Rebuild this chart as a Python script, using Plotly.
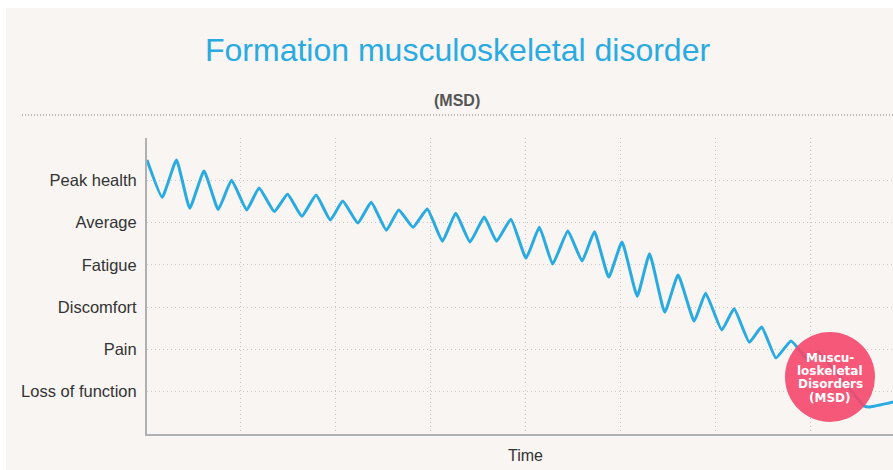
import plotly.graph_objects as go

# ---- data ----
time = [0.0, 0.16, 0.31, 0.45, 0.60, 0.75, 0.89, 1.05, 1.18, 1.34, 1.48, 1.63, 1.78, 1.93,
        2.06, 2.22, 2.36, 2.52, 2.65, 2.80, 2.95, 3.11, 3.25, 3.40, 3.55, 3.68, 3.83, 3.99,
        4.13, 4.27, 4.43, 4.58, 4.71, 4.86, 5.00, 5.16, 5.29, 5.45, 5.59, 5.76, 5.88, 6.05,
        6.18, 6.34, 6.47, 6.62, 6.78, 6.96, 7.06, 7.55, 7.61, 7.86]
health = [6.48, 5.60, 6.48, 5.34, 6.22, 5.31, 6.00, 5.30, 5.82, 5.26, 5.67, 5.15, 5.65, 5.06,
          5.51, 4.99, 5.48, 4.82, 5.30, 4.89, 5.32, 4.56, 5.22, 4.54, 5.13, 4.56, 5.08, 4.16,
          4.89, 4.02, 4.80, 4.09, 4.78, 3.71, 4.54, 3.26, 4.26, 2.88, 3.76, 2.67, 3.33, 2.46,
          2.96, 2.17, 2.53, 1.80, 2.20, 1.75, 1.94, 0.66, 0.64, 0.76]
level_values = [0, 1, 2, 3, 4, 5, 6, 7]
level_labels = ["", "Loss of function", "Pain", "Discomfort", "Fatigue", "Average", "Peak health", ""]
badge_lines = ["Muscu-", "loskeletal", "Disorders", "(MSD)"]

title_text = "Formation musculoskeletal disorder"
subtitle_text = "(MSD)"
x_title = "Time"

# ---- layout constants ----
W, H = 893, 470
L, R, T, B = 147, 0, 138, 36
PW, PH = W - L - R, H - T - B
BG = "#F8F5F2"
BLUE = "#29ABE2"
FONT = "Liberation Sans, Arial, Helvetica, sans-serif"
BADGE_FONT = "DejaVu Sans, Verdana, sans-serif"


def px(x):
    return (x - L) / PW


def py(y):
    return (H - B - y) / PH


fig = go.Figure()
fig.add_trace(go.Scatter(
    x=time, y=health, mode="lines",
    line=dict(color=BLUE, width=3, shape="spline", smoothing=0.4),
    hoverinfo="skip", showlegend=False,
))

shapes = [
    # white frame strips (top, left)
    dict(type="rect", xref="paper", yref="paper", x0=px(-5), x1=px(W + 5), y0=py(8), y1=py(-5),
         fillcolor="white", line=dict(width=0), layer="below"),
    dict(type="rect", xref="paper", yref="paper", x0=px(-5), x1=px(6), y0=py(H + 5), y1=py(-5),
         fillcolor="white", line=dict(width=0), layer="below"),
    # dotted separator
    dict(type="line", xref="paper", yref="paper", x0=px(22), x1=px(W), y0=py(115), y1=py(115),
         line=dict(color="#7a7a7a", width=1, dash="1px,2px")),
    # badge circle
    dict(type="circle", xref="paper", yref="paper",
         x0=px(785), x1=px(875), y0=py(422), y1=py(332),
         fillcolor="#F4476B", line=dict(width=0), opacity=0.9, layer="above"),
]

annotations = [
    dict(text=title_text, xref="paper", yref="paper", x=px(457), y=py(50),
         xanchor="center", yanchor="middle", showarrow=False,
         font=dict(family=FONT, size=32, color=BLUE)),
    dict(text="<b>" + subtitle_text + "</b>", xref="paper", yref="paper", x=px(457), y=py(100),
         xanchor="center", yanchor="middle", showarrow=False,
         font=dict(family=FONT, size=16, color="#555555")),
    dict(text=x_title, xref="paper", yref="paper", x=px(525), y=py(455),
         xanchor="center", yanchor="middle", showarrow=False,
         font=dict(family=FONT, size=16, color="#333333")),
]
for i, line in enumerate(badge_lines):
    annotations.append(dict(text="<b>" + line + "</b>", xref="paper", yref="paper",
                            x=px(830), y=py(357.5 + 13.4 * i), xanchor="center", yanchor="middle",
                            showarrow=False, font=dict(family=BADGE_FONT, size=12, color="white")))

fig.update_layout(
    width=W, height=H,
    margin=dict(l=L, r=R, t=T, b=B, pad=0),
    paper_bgcolor=BG, plot_bgcolor=BG,
    shapes=shapes, annotations=annotations,
    xaxis=dict(range=[0, PW / 95], tick0=-2 / 95, dtick=1, showticklabels=False,
               showgrid=True, gridcolor="#cdc8c3", griddash="1px,3px", gridwidth=1,
               zeroline=False, showline=True, linecolor="#b0b0b0", linewidth=2,
               ticks="", fixedrange=True),
    yaxis=dict(range=[0, 7], tickvals=level_values, ticktext=level_labels,
               showgrid=True, gridcolor="#cdc8c3", griddash="1px,3px", gridwidth=1,
               zeroline=False, showline=True, linecolor="#b0b0b0", linewidth=2,
               ticks="", ticklabelstandoff=5,
               tickfont=dict(family=FONT, size=16.5, color="#333333"), fixedrange=True),
    font=dict(family=FONT),
)

fig.write_html("out.html", config={"displayModeBar": False})

# remove the browser's default page margin so the figure sits at the window's corner
with open("out.html", "r", encoding="utf-8") as f:
    html = f.read()
html = html.replace("<body>", '<body style="margin:0;padding:0;overflow:hidden;">', 1)
with open("out.html", "w", encoding="utf-8") as f:
    f.write(html)
